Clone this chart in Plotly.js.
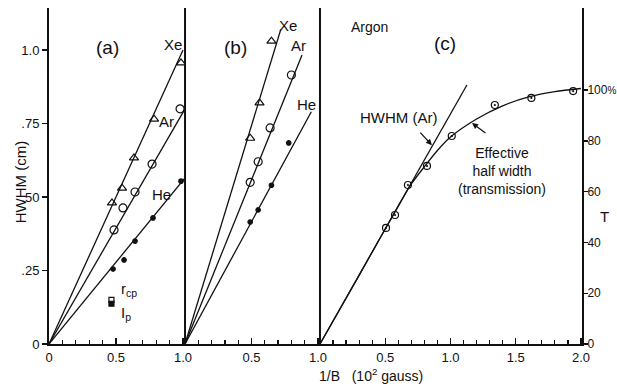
<!DOCTYPE html>
<html>
<head>
<meta charset="utf-8">
<script src="https://cdn.plot.ly/plotly-3.0.1.min.js"></script>
<style>
  html, body { margin: 0; padding: 0; background: #fff; }
  #chart { width: 617px; height: 387px; }
</style>
</head>
<body>
<div id="chart"></div>
<script>
// ---------- Data ----------
// Panel (a)
const aXeX = [0.47, 0.545, 0.634, 0.784, 0.985];
const aXeY = [0.48, 0.53, 0.633, 0.765, 0.956];
const aArX = [0.485, 0.552, 0.642, 0.769, 0.978];
const aArY = [0.388, 0.463, 0.517, 0.612, 0.80];
const aHeX = [0.478, 0.56, 0.642, 0.776, 0.985];
const aHeY = [0.255, 0.286, 0.35, 0.429, 0.554];
const aXeFitX = [0, 1.0];  const aXeFitY = [0, 1.0];
const aArFitX = [0, 1.015]; const aArFitY = [0, 0.80];
const aHeFitX = [0, 1.015]; const aHeFitY = [0, 0.565];
const rcpX = [0.466]; const rcpY = [0.150];
const ipX = [0.466];  const ipY = [0.137];

// Panel (b)
const bXeX = [0.49, 0.56, 0.65];
const bXeY = [0.70, 0.82, 1.03];
const bArX = [0.49, 0.55, 0.64, 0.80];
const bArY = [0.55, 0.62, 0.735, 0.915];
const bHeX = [0.49, 0.55, 0.65, 0.78];
const bHeY = [0.415, 0.456, 0.54, 0.684];
const bXeFitX = [0, 0.72]; const bXeFitY = [0, 1.07];
const bArFitX = [0, 0.88]; const bArFitY = [0, 0.983];
const bHeFitX = [0, 0.95]; const bHeFitY = [0, 0.79];

// Panel (c) Argon, transmission T (%)
const cPtsX = [0.506, 0.575, 0.674, 0.82, 1.01, 1.34, 1.62, 1.94];
const cPtsT = [45.7, 50.8, 62.6, 70.1, 81.9, 94.1, 96.9, 99.6];
const cCurveX = [0, 0.3, 0.5, 0.6, 0.7, 0.8, 0.9, 1.0, 1.2, 1.4, 1.6, 1.8, 2.0];
const cCurveT = [0, 27, 45.3, 54.3, 63.0, 69.8, 76.2, 81.5, 88.6, 93.8, 97.3, 99.4, 100.6];
const cHwhmX = [0, 1.126]; const cHwhmT = [0, 102];

// Tick labels
const aTickVals = [0, 0.5, 1.0]; const aTickText = ['0', '0.5', '1.0'];
const bTickVals = [0.5, 1.0];    const bTickText = ['0.5', '1.0'];
const cTickVals = [0.5, 1.0, 1.5, 2.0]; const cTickText = ['0.5', '1.0', '1.5', '2.0'];
const yTickVals = [0, 0.25, 0.5, 0.75, 1.0]; const yTickText = ['0', '.25', '.50', '.75', '1.0'];
const tTickVals = [0, 20, 40, 60, 80, 100];
const tTickText = ['0', '20', '40', '60', '80', '100<span style="font-size:10px">%</span>'];

// ---------- Styling ----------
const FONT = 'Liberation Sans, Arial, sans-serif';
const BLK = '#111';
const lineStyle = {color: BLK, width: 1.3};

function fit(x, y, xa, ya) {
  return {x: x, y: y, xaxis: xa, yaxis: ya || 'y', mode: 'lines', line: lineStyle,
          hoverinfo: 'skip', showlegend: false};
}
function pts(x, y, xa, symbol, size, ya) {
  return {x: x, y: y, xaxis: xa, yaxis: ya || 'y', mode: 'markers',
          marker: {symbol: symbol, size: size, color: BLK, line: {color: BLK, width: 1.2}},
          showlegend: false, cliponaxis: false};
}

const traces = [
  fit(aXeFitX, aXeFitY, 'x'), fit(aArFitX, aArFitY, 'x'), fit(aHeFitX, aHeFitY, 'x'),
  pts(aXeX, aXeY, 'x', 'triangle-up-open', 8),
  pts(aArX, aArY, 'x', 'circle-open', 8),
  pts(aHeX, aHeY, 'x', 'circle', 4.5),
  pts(rcpX, rcpY, 'x', 'square-open', 5),
  pts(ipX, ipY, 'x', 'square', 5),

  fit(bXeFitX, bXeFitY, 'x2'), fit(bArFitX, bArFitY, 'x2'), fit(bHeFitX, bHeFitY, 'x2'),
  pts(bXeX, bXeY, 'x2', 'triangle-up-open', 8),
  pts(bArX, bArY, 'x2', 'circle-open', 8),
  pts(bHeX, bHeY, 'x2', 'circle', 4.5),

  fit(cHwhmX, cHwhmT, 'x3', 'y2'),
  {x: cCurveX, y: cCurveT, xaxis: 'x3', yaxis: 'y2', mode: 'lines',
   line: {color: BLK, width: 1.3, shape: 'spline', smoothing: 0.8}, showlegend: false, hoverinfo: 'skip'},
  pts(cPtsX, cPtsT, 'x3', 'circle-open-dot', 7, 'y2')
];

const DA = [0, 0.2552], DB = [0.2552, 0.5084], DC = [0.5084, 1];

function xAxis(domain, range, tv, tt) {
  return {
    domain: domain, range: range, anchor: 'y',
    tickmode: 'array', tickvals: tv, ticktext: tt,
    ticks: 'inside', ticklen: 6, tickwidth: 1.4, tickcolor: BLK,
    minor: {tickmode: 'linear', tick0: 0, dtick: 0.1, ticks: 'inside', ticklen: 4, tickwidth: 1.2, tickcolor: BLK, showgrid: false},
    showline: true, linewidth: 2, linecolor: BLK,
    showgrid: false, zeroline: false,
    tickfont: {family: FONT, size: 13, color: BLK}
  };
}
function topAxis(over, range) {
  return {
    overlaying: over, side: 'top', anchor: 'y', range: range,
    tickmode: 'linear', tick0: 0, dtick: 0.5, showticklabels: false,
    ticks: 'inside', ticklen: 5, tickwidth: 1.4, tickcolor: BLK,
    minor: {tickmode: 'linear', tick0: 0, dtick: 0.1, ticks: 'inside', ticklen: 4, tickwidth: 1.2, tickcolor: BLK, showgrid: false},
    showline: true, linewidth: 2, linecolor: BLK,
    showgrid: false, zeroline: false
  };
}

const ann = [];
function txt(x, y, xref, yref, text, size, extra) {
  ann.push(Object.assign({x: x, y: y, xref: xref, yref: yref, text: text, showarrow: false,
    xanchor: 'center', yanchor: 'middle',
    font: {family: FONT, size: size, color: BLK}}, extra || {}));
}
// Panel a labels
txt(0.436, 1.01, 'x', 'y', '(a)', 19);
txt(0.925, 1.02, 'x', 'y', 'Xe', 15);
txt(0.88, 0.758, 'x', 'y', 'Ar', 15);
txt(0.84, 0.51, 'x', 'y', 'He', 15);
txt(0.60, 0.184, 'x', 'y', 'r<sub>cp</sub>', 15);
txt(0.575, 0.105, 'x', 'y', 'I<sub>p</sub>', 15);
// Panel b labels
txt(0.376, 1.01, 'x2', 'y', '(b)', 19);
txt(0.774, 1.085, 'x2', 'y', 'Xe', 15);
txt(0.857, 1.017, 'x2', 'y', 'Ar', 15);
txt(0.91, 0.816, 'x2', 'y', 'He', 15);
// Panel c labels
txt(0.383, 124.8, 'x3', 'y2', 'Argon', 14);
txt(0.958, 118.5, 'x3', 'y2', '(c)', 19);
txt(0.598, 89, 'x3', 'y2', 'HWHM (Ar)', 15);
txt(1.395, 68.1, 'x3', 'y2', 'Effective<br>half width<br>(transmission)', 14);
// arrows
ann.push({x: 0.858, y: 78.3, xref: 'x3', yref: 'y2', ax: -13, ay: -14, text: '', showarrow: true,
  arrowhead: 2, arrowsize: 1, arrowwidth: 1.2, arrowcolor: BLK});
ann.push({x: 1.165, y: 87, xref: 'x3', yref: 'y2', ax: 15, ay: 11, text: '', showarrow: true,
  arrowhead: 2, arrowsize: 1, arrowwidth: 1.2, arrowcolor: BLK});
// axis titles
txt(-0.054, 0.482, 'paper', 'paper', 'HWHM (cm)', 15, {textangle: -90});
txt(0.604, -0.092, 'paper', 'paper', '1/B&nbsp;&nbsp;&nbsp;(10<sup>2</sup> gauss)', 14);
txt(1.043, 0.378, 'paper', 'paper', 'T', 15);

const layout = {
  width: 617, height: 387,
  margin: {l: 49, r: 35, t: 8, b: 43},
  paper_bgcolor: '#fff', plot_bgcolor: '#fff',
  showlegend: false,
  xaxis: xAxis(DA, [0, 1.015], aTickVals, aTickText),
  xaxis2: xAxis(DB, [0, 1.015], bTickVals, bTickText),
  xaxis3: xAxis(DC, [0, 2.008], cTickVals, cTickText),
  xaxis4: topAxis('x', [0, 1.015]),
  xaxis5: topAxis('x2', [0, 1.015]),
  xaxis6: topAxis('x3', [0, 2.008]),
  yaxis: {
    domain: [0, 1], range: [0, 1.143], anchor: 'x',
    tickmode: 'array', tickvals: yTickVals, ticktext: yTickText,
    ticks: 'outside', ticklen: 5, tickwidth: 1.4, tickcolor: BLK,
    showline: true, linewidth: 2, linecolor: BLK,
    showgrid: false, zeroline: false,
    tickfont: {family: FONT, size: 13, color: BLK}
  },
  yaxis2: {
    overlaying: 'y', anchor: 'x3', side: 'right', range: [0, 132.3],
    tickmode: 'array', tickvals: tTickVals, ticktext: tTickText,
    ticks: 'outside', ticklen: 4, tickwidth: 1.4, tickcolor: BLK,
    ticklabelstandoff: -3,
    showline: true, linewidth: 2, linecolor: BLK,
    showgrid: false, zeroline: false,
    tickfont: {family: FONT, size: 12, color: BLK}
  },
  shapes: [
    {type: 'line', xref: 'paper', yref: 'paper', x0: DA[1], x1: DA[1], y0: 0, y1: 1, line: {color: BLK, width: 2}},
    {type: 'line', xref: 'paper', yref: 'paper', x0: DB[1], x1: DB[1], y0: 0, y1: 1, line: {color: BLK, width: 2}}
  ],
  annotations: ann
};

Plotly.newPlot('chart', traces, layout, {staticPlot: true, displayModeBar: false});
</script>
</body>
</html>
